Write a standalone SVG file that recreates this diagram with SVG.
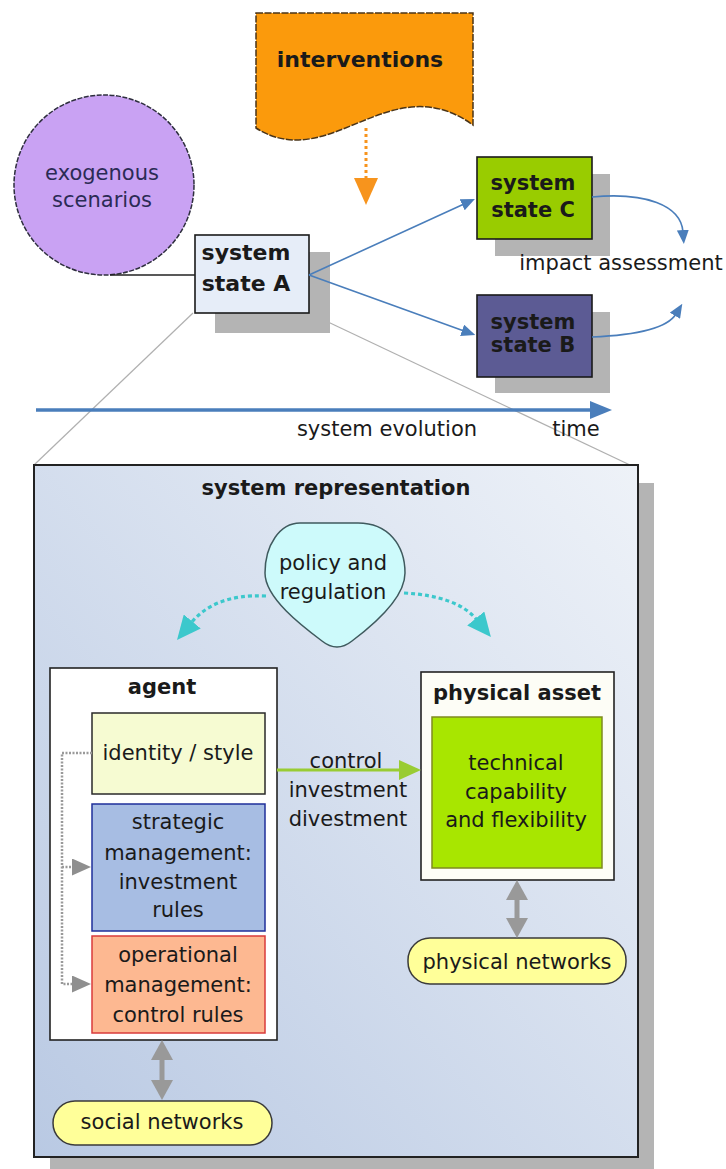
<svg xmlns="http://www.w3.org/2000/svg" width="726" height="1169" viewBox="0 0 726 1169">
<defs>
<style>
text{font-family:"DejaVu Sans","Liberation Sans",sans-serif;font-size:21px;fill:#1a1a1a;text-anchor:middle}
.b{font-weight:bold}
.shadow{fill:#b4b4b4}
.box{stroke:#1a1a1a;stroke-width:1.6}
.blue{fill:none;stroke:#4a7ebb;stroke-width:1.6}
.cyan{fill:none;stroke:#3cc8cc;stroke-width:3.2;stroke-dasharray:4 3}
.gdot{fill:none;stroke:#9a9a9a;stroke-width:2.5;stroke-dasharray:2 1.5}
.dbl{fill:none;stroke:#999;stroke-width:5}
.guide{stroke:#b0b0b0;stroke-width:1.2;fill:none}
.pill{fill:#ffff99;stroke:#3a3a3a;stroke-width:1.5}
</style>
<linearGradient id="repGrad" x1="0" y1="1" x2="1" y2="0">
<stop offset="0" stop-color="#b9c9e3"/>
<stop offset="1" stop-color="#eef2f8"/>
</linearGradient>
<marker id="blueHead" markerUnits="userSpaceOnUse" markerWidth="14" markerHeight="12" refX="2" refY="6" orient="auto"><path d="M0,0 L14,6 L0,12 z" fill="#4a7ebb"/></marker>
<marker id="timeHead" markerUnits="userSpaceOnUse" markerWidth="22" markerHeight="18" refX="2" refY="9" orient="auto"><path d="M0,0 L22,9 L0,18 z" fill="#4a7ebb"/></marker>
<marker id="orangeHead" markerUnits="userSpaceOnUse" markerWidth="27" markerHeight="24" refX="2" refY="12" orient="auto"><path d="M0,0 L27,12 L0,24 z" fill="#f7941d"/></marker>
<marker id="cyanHead" markerUnits="userSpaceOnUse" markerWidth="24" markerHeight="22" refX="2" refY="11" orient="auto"><path d="M0,0 L24,11 L0,22 z" fill="#3cc8cc"/></marker>
<marker id="greenHead" markerUnits="userSpaceOnUse" markerWidth="22" markerHeight="20" refX="2" refY="10" orient="auto"><path d="M0,0 L22,10 L0,20 z" fill="#99cc33"/></marker>
<marker id="grayHead" markerUnits="userSpaceOnUse" markerWidth="19" markerHeight="17" refX="0" refY="8.5" orient="auto"><path d="M0,0 L19,8.5 L0,17 z" fill="#8f8f8f"/></marker>
<marker id="grayBig" markerUnits="userSpaceOnUse" markerWidth="20" markerHeight="22" refX="2" refY="11" orient="auto-start-reverse"><path d="M0,0 L20,11 L0,22 z" fill="#999"/></marker>
</defs>
<rect width="726" height="1169" fill="#ffffff"/>

<g id="guides">
<line class="guide" x1="193" y1="313" x2="34" y2="465"/>
<line class="guide" x1="309" y1="313" x2="630" y2="465"/>
</g>

<g id="exogenous-scenarios">
<circle cx="104" cy="185" r="90" fill="#c9a2f3" stroke="#2e2e3e" stroke-width="1.5" stroke-dasharray="5 1.5"/>
<text x="102" y="180" style="fill:#2b2b55">exogenous</text>
<text x="102" y="207" style="fill:#2b2b55">scenarios</text>
</g>

<g id="interventions">
<path d="M256,13 H473 V125 C390,65 330,175 256,128 Z" fill="#fb9a0c" stroke="#4a3418" stroke-width="1.5" stroke-dasharray="7 1.5"/>
<text class="b" x="360" y="67" style="font-size:22px">interventions</text>
</g>

<g id="system-state-A">
<rect class="shadow" x="215" y="252" width="115" height="81"/>
<rect class="box" x="195" y="235" width="114" height="78" fill="#e6edf8"/>
<text class="b" x="246" y="260" style="font-size:22px">system</text>
<text class="b" x="246" y="291" style="font-size:22px">state A</text>
</g>

<g id="system-state-C">
<rect class="shadow" x="495" y="174" width="115" height="82"/>
<rect class="box" x="477" y="157" width="115" height="82" fill="#99cc00"/>
<text class="b" x="533" y="190">system</text>
<text class="b" x="533" y="217">state C</text>
</g>

<g id="system-state-B">
<rect class="shadow" x="495" y="312" width="115" height="81"/>
<rect class="box" x="477" y="295" width="115" height="82" fill="#5c5b94"/>
<text class="b" x="533" y="329">system</text>
<text class="b" x="533" y="352">state B</text>
</g>

<g id="impact-assessment">
<text x="621" y="270">impact assessment</text>
</g>

<g id="time-axis">
<text x="387" y="436">system evolution</text>
<text x="576" y="436">time</text>
</g>

<g id="system-representation">
<rect class="shadow" x="50" y="483" width="604" height="686"/>
<rect x="34" y="465" width="604" height="692" fill="url(#repGrad)" stroke="#222" stroke-width="2"/>
<text class="b" x="336" y="495">system representation</text>
</g>

<g id="policy-and-regulation">
<path d="M300,523 L358,523 C388,523 405,545 405,573 C405,598 372,626 352,641 C342,649 332,649 322,641 C302,626 265,598 265,573 C265,545 280,523 300,523 Z" fill="#cdfafb" stroke="#3f5a5e" stroke-width="1.5"/>
<text x="333" y="570">policy and</text>
<text x="333" y="599">regulation</text>
</g>

<g id="agent">
<rect x="50" y="668" width="227" height="372" fill="#ffffff" stroke="#222" stroke-width="1.6"/>
<text class="b" x="162" y="694">agent</text>
</g>

<g id="identity-style">
<rect x="92" y="713" width="173" height="81" fill="#f6fbd2" stroke="#2a2a2a" stroke-width="1.5"/>
<text x="178" y="760">identity / style</text>
</g>

<g id="strategic-management">
<rect x="92" y="804" width="173" height="127" fill="#a7bde3" stroke="#1f2f9a" stroke-width="1.5"/>
<text x="178" y="829">strategic</text>
<text x="178" y="860">management:</text>
<text x="178" y="889">investment</text>
<text x="178" y="917">rules</text>
</g>

<g id="operational-management">
<rect x="92" y="936" width="173" height="97" fill="#fdb891" stroke="#d93b3b" stroke-width="1.5"/>
<text x="178" y="962">operational</text>
<text x="178" y="992">management:</text>
<text x="178" y="1022">control rules</text>
</g>

<g id="physical-asset">
<rect x="421" y="672" width="193" height="208" fill="#fdfdf6" stroke="#222" stroke-width="1.6"/>
<text class="b" x="517" y="700">physical asset</text>
<rect x="432" y="717" width="170" height="151" fill="#a8e600" stroke="#7f8a20" stroke-width="1.5"/>
<text x="516" y="770">technical</text>
<text x="516" y="799">capability</text>
<text x="516" y="827">and flexibility</text>
</g>

<g id="physical-networks">
<rect class="pill" x="408" y="938" width="218" height="46" rx="22"/>
<text x="517" y="969">physical networks</text>
</g>

<g id="social-networks">
<rect class="pill" x="53" y="1101" width="219" height="44" rx="22"/>
<text x="162" y="1129">social networks</text>
</g>

<g id="connectors">
<line x1="110" y1="275" x2="195" y2="275" stroke="#222" stroke-width="1.5"/>
<path d="M366,128 V180" fill="none" stroke="#f7941d" stroke-width="3" stroke-dasharray="3 3" marker-end="url(#orangeHead)"/>
<path class="blue" d="M309,275 L464,204" marker-end="url(#blueHead)"/>
<path class="blue" d="M309,275 L464,331" marker-end="url(#blueHead)"/>
<path class="blue" d="M592,197 C645,192 681,205 683,232" marker-end="url(#blueHead)"/>
<path class="blue" d="M592,337 C640,335 668,327 676,314" marker-end="url(#blueHead)"/>
<path d="M36,410 H592" fill="none" stroke="#4a7ebb" stroke-width="3.5" marker-end="url(#timeHead)"/>
<path class="cyan" d="M266,596 C228,594 205,606 191,623" marker-end="url(#cyanHead)"/>
<path class="cyan" d="M404,593 C440,595 464,604 477,620" marker-end="url(#cyanHead)"/>
<path class="gdot" d="M92,753 H62 V984 H72" marker-end="url(#grayHead)"/>
<path class="gdot" d="M62,867 H72" marker-end="url(#grayHead)"/>
<path d="M277,770 H401" fill="none" stroke="#99cc33" stroke-width="3" marker-end="url(#greenHead)"/>
<path class="dbl" d="M517,898 V920" marker-start="url(#grayBig)" marker-end="url(#grayBig)"/>
<path class="dbl" d="M162,1058 V1082" marker-start="url(#grayBig)" marker-end="url(#grayBig)"/>
</g>

<g id="connector-labels">
<text x="346" y="768">control</text>
<text x="348" y="797">investment</text>
<text x="348" y="826">divestment</text>
</g>
</svg>
